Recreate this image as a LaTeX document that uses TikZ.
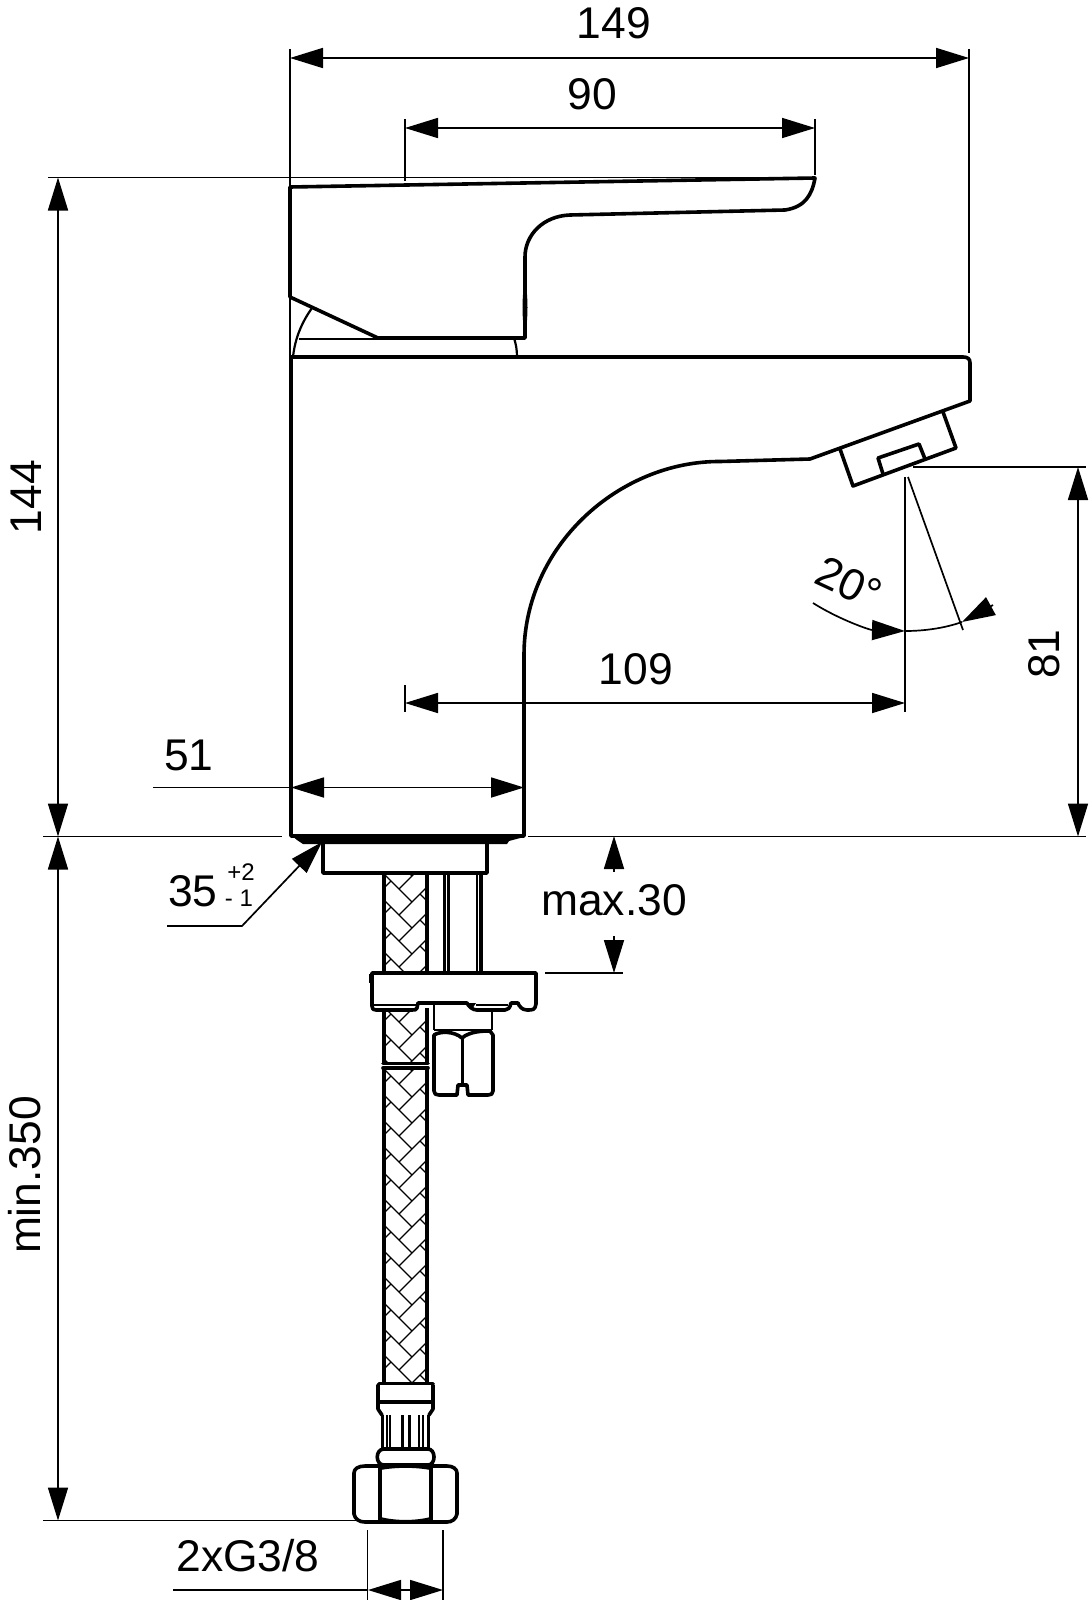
\documentclass[tikz,border=0pt]{standalone}
\usepackage{fontspec}
\setmainfont{Liberation Sans}
\usetikzlibrary{arrows.meta}
\tikzset{
  dimtip/.tip={Triangle[length=16.5pt,width=10pt]},
  thin line/.style={line width=0.85pt,black},
  dimline/.style={thin line,{dimtip}-{dimtip}},
  outline/.style={line width=1.8pt,black,line join=round,line cap=round},
  medline/.style={line width=1.1pt,black,line join=round},
  braidline/.style={line width=0.65pt,black},
  dimtext/.style={inner sep=0pt,font=\fontsize{22.2}{25}\selectfont},
  smalltext/.style={inner sep=0pt,font=\fontsize{12}{14}\selectfont}
}
\newcommand{\hosebraid}[2]{%
  \begin{scope}
    \clip (383,#1) rectangle (428,#2);
    \foreach \k in {0,...,60}{
      \pgfmathsetmacro{\yy}{#1-78+\k*26}
      \pgfmathparse{\yy<#2?1:0}
      \ifnum\pgfmathresult=1
        \draw[braidline] (383,\yy) -- (412,\yy+29);
        \draw[braidline] (428,\yy+13) -- (399,\yy+42);
        \draw[braidline] (383,\yy+16) -- (391,\yy+8);
        \draw[braidline] (428,\yy+29) -- (420,\yy+21);
      \fi
    }
  \end{scope}
  \draw[outline,line cap=butt] (384,#1) -- (384,#2);
  \draw[outline,line cap=butt] (427,#1) -- (427,#2);
}
\begin{document}
\begin{tikzpicture}[x=0.5pt,y=-0.5pt]
\useasboundingbox (0,0) rectangle (1088,1600);
% --- dimension anchors
\coordinate (L149) at (290,58);  \coordinate (R149) at (969,58);
\coordinate (L90) at (405,128);  \coordinate (R90) at (815,128);
\coordinate (T144) at (58,177.5);\coordinate (B144) at (58,836.5);
\coordinate (B350) at (58,1520.5);
\coordinate (T81) at (1078,467); \coordinate (B81) at (1078,836.5);
\coordinate (L109) at (405,703); \coordinate (R109) at (905,703);
\coordinate (L51) at (291,787.5);  \coordinate (R51) at (524,787.5);
\coordinate (LG) at (368,1590);  \coordinate (RG) at (443,1590);
% --- extension lines
\draw[thin line] (290,49) -- (290,358);
\draw[thin line] (969,49) -- (969,353);
\draw[thin line] (405,119) -- (405,181);
\draw[thin line] (815,119) -- (815,175);
\draw[thin line] (48,177.5) -- (815,177.5);
\draw[thin line] (43,836.5) -- (282,836.5);
\draw[thin line] (528,836.5) -- (1086,836.5);
\draw[thin line] (43,1520.5) -- (356,1520.5);
\draw[thin line] (913,467) -- (1086,467);
\draw[thin line] (405,685) -- (405,712);
\draw[thin line] (905,477) -- (905,712);
\draw[thin line] (908,477) -- (963,630);
\draw[thin line] (367.5,1530) -- (367.5,1600);
\draw[thin line] (443,1530) -- (443,1600);
\draw[thin line] (545,973) -- (623,973);
% --- dimension lines
\draw[dimline] (L149) -- (R149);
\draw[dimline] (L90) -- (R90);
\draw[dimline] (T144) -- (B144);
\draw[dimline] (B144) -- (B350);
\draw[dimline] (T81) -- (B81);
\draw[dimline] (L109) -- (R109);
\draw[dimline] (L51) -- (R51);
\draw[thin line] (153,787.5) -- (L51);
\draw[dimline] (LG) -- (RG);
\draw[thin line] (173,1590) -- (LG);
% --- max.30
\coordinate (M1) at (614,836); \coordinate (M1b) at (614,872);
\coordinate (M2) at (614,973); \coordinate (M2b) at (614,936);
\draw[thin line,{dimtip}-] (M1) -- (M1b);
\draw[thin line,-{dimtip}] (M2b) -- (M2);
% --- 35 leader
\coordinate (LA) at (167,926); \coordinate (LB) at (242,926); \coordinate (LC) at (322,842);
\draw[thin line,-{dimtip}] (LA) -- (LB) -- (LC);
% --- angle
\draw[thin line,-{dimtip}] (813,603) .. controls (840,620) and (870,630) .. (905,631);
\draw[thin line] (905,631) .. controls (925,631) and (945,628) .. (962,622);
\draw[thin line,-{dimtip}] (993,605) -- (962,622);
% --- handle
\draw[outline] (290,187) -- (815,178)
  .. controls (812,195) and (805,207) .. (785,210)
  -- (570,215) .. controls (543,216) and (525,235) .. (525,257)
  -- (525,338) -- (378,338) -- (290,297) -- cycle;
\fill[black] (524,285) .. controls (522,300) and (522,315) .. (524,330) -- (526,330) .. controls (528,315) and (528,300) .. (526,285) -- cycle;
\draw[medline] (312,308) .. controls (302,322) and (295,338) .. (293,357);
\draw[thin line] (299,339) -- (378,339);
\draw[medline] (514,338) .. controls (516,344) and (517,350) .. (517,357);
% --- body
\draw[outline] (291,357) -- (963,357) .. controls (968,357) and (970,359) .. (970,363)
  -- (970,401) -- (810,459) -- (720,461.5)
  .. controls (620,461) and (524,545) .. (524,655)
  -- (524,836) -- (291,836) -- cycle;
% --- aerator
\draw[outline] (840,449) -- (853,486) -- (956,448) -- (943,412);
\draw[outline] (883,474) -- (878,458) -- (919,444) -- (925,459);
% --- base
\fill[black] (291,835) -- (524,835) -- (524,837) -- (509,841) -- (507,844) -- (303,844) -- (297,840) -- cycle;
\draw[outline] (323,843) -- (323,873) -- (487,873) -- (487,843);
% --- rods
\draw[outline,line cap=butt] (444.5,873) -- (444.5,973);
\draw[medline] (448.5,873) -- (448.5,973);
\draw[medline] (477,873) -- (477,973);
\draw[outline,line cap=butt] (481,873) -- (481,973);
% --- hose segments
\hosebraid{873}{973}
\hosebraid{1006}{1063}
\hosebraid{1068}{1384}
\draw[outline] (383,1063.5) -- (428,1063.5);
\draw[outline] (383,1068) -- (428,1068);
% --- plate
\fill[white] (372,973) rectangle (536,1008);
\draw[outline] (372,973) -- (536,973) -- (536,1004)
  .. controls (535,1010) and (533,1010) .. (527,1010)
  .. controls (522,1010) and (519,1006) .. (518,1003)
  -- (511,1003) .. controls (510,1008) and (508,1010) .. (505,1010)
  -- (477,1010) .. controls (473,1010) and (469,1007) .. (467,1003)
  -- (418,1003) -- (417,1008) .. controls (416,1010) and (415,1010) .. (412,1010)
  -- (376,1010) .. controls (373,1010) and (372,1009) .. (372,1006) -- cycle;
\fill[black] (368.5,974) rectangle (372,983);
\draw[thin line] (372,1005) -- (417,1005);
\draw[thin line] (476,1005) -- (508,1005);
\fill[black] (467,1003) -- (476,1003) -- (472,1009) -- (469,1008) -- cycle;
% --- nut under plate
\draw[medline] (434,1004) -- (434,1030);
\draw[medline] (492,1012) -- (492,1030);
\draw[medline] (434,1030) -- (492,1030);
\draw[outline] (434,1035) -- (434,1091) .. controls (434,1094) and (436,1095) .. (439,1095)
  -- (457,1095) -- (458,1085) -- (467,1085) -- (468,1095) -- (488,1095)
  .. controls (491,1095) and (493,1094) .. (493,1091) -- (493,1035) -- (490,1031);
\draw[outline] (434,1035) .. controls (440,1031) and (454,1031) .. (462,1038)
  .. controls (470,1031) and (484,1031) .. (490,1031);
\draw[outline] (462.5,1038) -- (462.5,1085);
% --- lower fitting
\draw[outline] (379,1383.5) -- (433,1383.5);
\draw[outline] (378,1385) -- (378,1409) -- (382,1415);
\draw[outline] (433,1385) -- (433,1409) -- (429,1415);
\draw[outline] (378,1402) -- (433,1402);
\foreach \xx/\ww in {382/1.5,387/1,390/1.1,402/1.5,409/1.5,419/1,423/1.1,428.5/1.5}{
  \draw[line width=\ww pt] (\xx,1415) -- (\xx,1449);
}
\draw[outline] (384,1449) -- (428,1449) .. controls (436,1449) and (436,1465) .. (428,1465)
  -- (384,1465) .. controls (375,1465) and (375,1449) .. (384,1449) -- cycle;
\draw[outline] (365,1466) -- (447,1466)
  .. controls (453,1466) and (457,1469) .. (457,1473)
  -- (457,1514) .. controls (456,1519) and (452,1522) .. (447,1522)
  -- (365,1522) .. controls (359,1522) and (355,1519) .. (354,1514)
  -- (354,1473) .. controls (354,1469) and (358,1466) .. (365,1466) -- cycle;
\draw[outline] (380,1468) -- (380,1520);
\draw[outline] (431,1468) -- (431,1520);
\draw[medline] (380,1469) .. controls (395,1466) and (416,1466) .. (431,1469);
\draw[medline] (380,1518) .. controls (395,1522) and (416,1522) .. (431,1518);
% --- texts
\node[dimtext] (t149) at (614,23) {149};
\node[dimtext] (t90) at (592,94) {90};
\node[dimtext,rotate=90] (t144) at (26,497) {144};
\node[dimtext,rotate=90] (t350) at (25,1175) {min.350};
\node[dimtext,rotate=90] (t81) at (1044,654) {81};
\node[dimtext] (t109) at (636,669) {109};
\node[dimtext] (t51) at (189,755) {51};
\node[dimtext] (t35) at (193,891) {35};
\node[smalltext] (tp2) at (241,872) {+2};
\node[smalltext] (tm1) at (239,898) {- 1};
\node[dimtext] (tmax) at (614,900) {max.30};
\node[dimtext] (tg) at (248,1556) {2xG3/8};
\node[dimtext,rotate=-25] (t20) at (849,583) {20°};
\end{tikzpicture}
\end{document}
